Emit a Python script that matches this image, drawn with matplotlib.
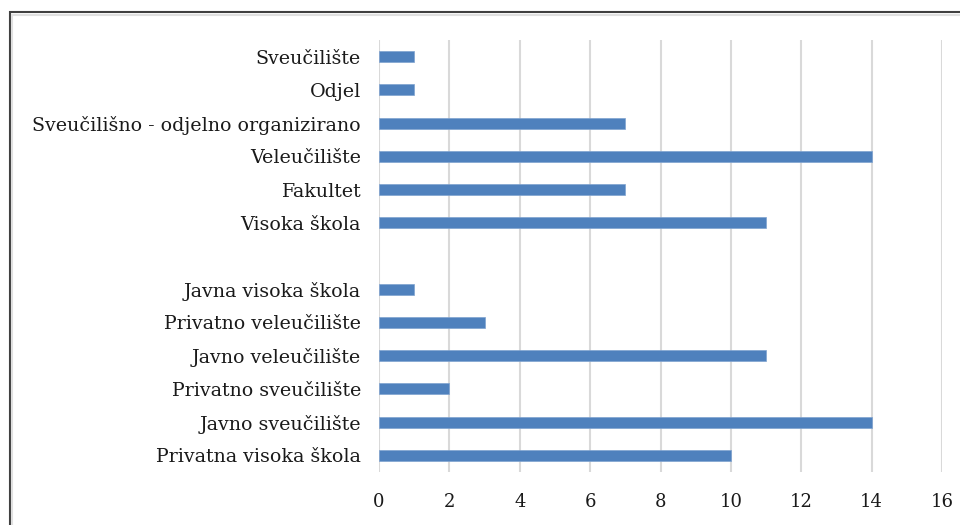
import matplotlib.pyplot as plt
from matplotlib.patches import Rectangle

# kategorije odozgo prema dolje (prazno mjesto = razmak između grupa)
kategorije = ["Sveučilište", "Odjel", "Sveučilišno - odjelno organizirano",
              "Veleučilište", "Fakultet", "Visoka škola", "",
              "Javna visoka škola", "Privatno veleučilište", "Javno veleučilište",
              "Privatno sveučilište", "Javno sveučilište", "Privatna visoka škola"]
vrijednosti = [1, 1, 7, 14, 7, 11, None, 1, 3, 11, 2, 14, 10]
x_ticks = [0, 2, 4, 6, 8, 10, 12, 14, 16]

plt.rcParams['font.family'] = ['DejaVu Serif']

fig = plt.figure(figsize=(9.6, 5.25), dpi=100)
ax = fig.add_axes([379 / 960, 53 / 525, 563 / 960, 432 / 525])

y = list(range(len(kategorije)))
for yi, v in zip(y, vrijednosti):
    if v is not None:
        ax.barh(yi, v, height=0.33, color='#4F81BD', edgecolor='#7FA3D0', linewidth=0.5, zorder=3)

ax.set_ylim(len(kategorije) - 0.5, -0.5)
ax.set_xlim(0, 16)
ax.set_yticks(y)
ax.set_yticklabels(kategorije, fontsize=13.7, color='#1a1a1a')
ax.set_xticks(x_ticks)
ax.set_xticklabels([str(t) for t in x_ticks], fontsize=13, color='#1a1a1a')
ax.tick_params(axis='y', length=0, pad=13)
ax.tick_params(axis='x', length=0, pad=15)
ax.grid(axis='x', color='#D9D9D9', linewidth=1.5, zorder=0)
for s in ax.spines.values():
    s.set_visible(False)

# okvir grafikona (odrezan desno i dolje)
fig.patches.append(Rectangle((9.5 / 960, -0.1), 1.2, 1.1 - 12 / 525,
                             transform=fig.transFigure, fill=False,
                             edgecolor='#404040', linewidth=1.5))
fig.patches.append(Rectangle((12 / 960, -0.1), 1.2, 1.1 - 15 / 525,
                             transform=fig.transFigure, fill=False,
                             edgecolor='#E0E0E0', linewidth=1.5))

fig.savefig('out.png', dpi=100)
